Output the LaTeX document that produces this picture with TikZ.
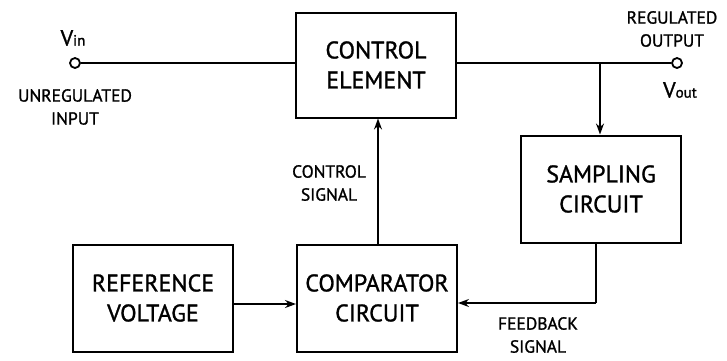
\documentclass[tikz,border=0pt]{standalone}
\usepackage{fontspec}
\setmainfont{PT Sans}[FakeBold=1.2]
\usetikzlibrary{arrows.meta}
\begin{document}
\begin{tikzpicture}[x=1pt,y=-1pt,
  blk/.style={draw,line width=2pt,inner sep=0pt,align=center,font=\fontsize{24}{30}\selectfont},
  lbl/.style={align=center,inner sep=0pt,font=\fontsize{17.5}{23}\selectfont},
  wire/.style={line width=1.6pt},
  arr/.style={wire,-{Stealth[length=11pt,width=8pt]}},
  term/.style={circle,draw,line width=1.8pt,minimum size=10pt,inner sep=0pt,fill=white}]
\useasboundingbox (0,0) rectangle (727,360);
\node[blk,minimum width=160pt,minimum height=105pt] (ce) at (376,65) {CONTROL\\ELEMENT};
\node[blk,minimum width=160pt,minimum height=107pt] (sc) at (601,189) {SAMPLING\\CIRCUIT};
\node[blk,minimum width=160pt,minimum height=107pt] (cc) at (377,298) {COMPARATOR\\CIRCUIT};
\node[blk,minimum width=160pt,minimum height=107pt] (rv) at (153,298) {REFERENCE\\VOLTAGE};
\node[term] (vin) at (75,63) {};
\node[term] (vout) at (677,63) {};
\coordinate (br) at (600,63);
\coordinate (fb) at (596,303);
\draw[wire] (vin.east) -- (vin.east -| ce.west);
\draw[wire] (ce.east |- vout) -- (vout.west);
\draw[arr] (br) -- (br |- sc.north);
\draw[arr] (cc.north -| 378,0) -- (378,0 |- ce.south);
\draw[arr] (rv.east |- 0,304) -- (cc.west |- 0,304);
\draw[wire] (sc.south -| fb) -- (fb);
\draw[arr] (fb) -- (cc.east |- fb);
\node[lbl] (vinl) at (73,38) {\fontsize{22}{24}\selectfont V\fontsize{15}{16}\selectfont in};
\node[lbl] (unreg) at (75,107) {UNREGULATED\\INPUT};
\node[lbl] (reg) at (672,29) {REGULATED\\OUTPUT};
\node[lbl] (voutl) at (680,90) {\fontsize{22}{24}\selectfont V\fontsize{15}{16}\selectfont out};
\node[lbl] (cs) at (329,183) {CONTROL\\SIGNAL};
\node[lbl] (fbl) at (538,335) {FEEDBACK\\SIGNAL};
\end{tikzpicture}
\end{document}
